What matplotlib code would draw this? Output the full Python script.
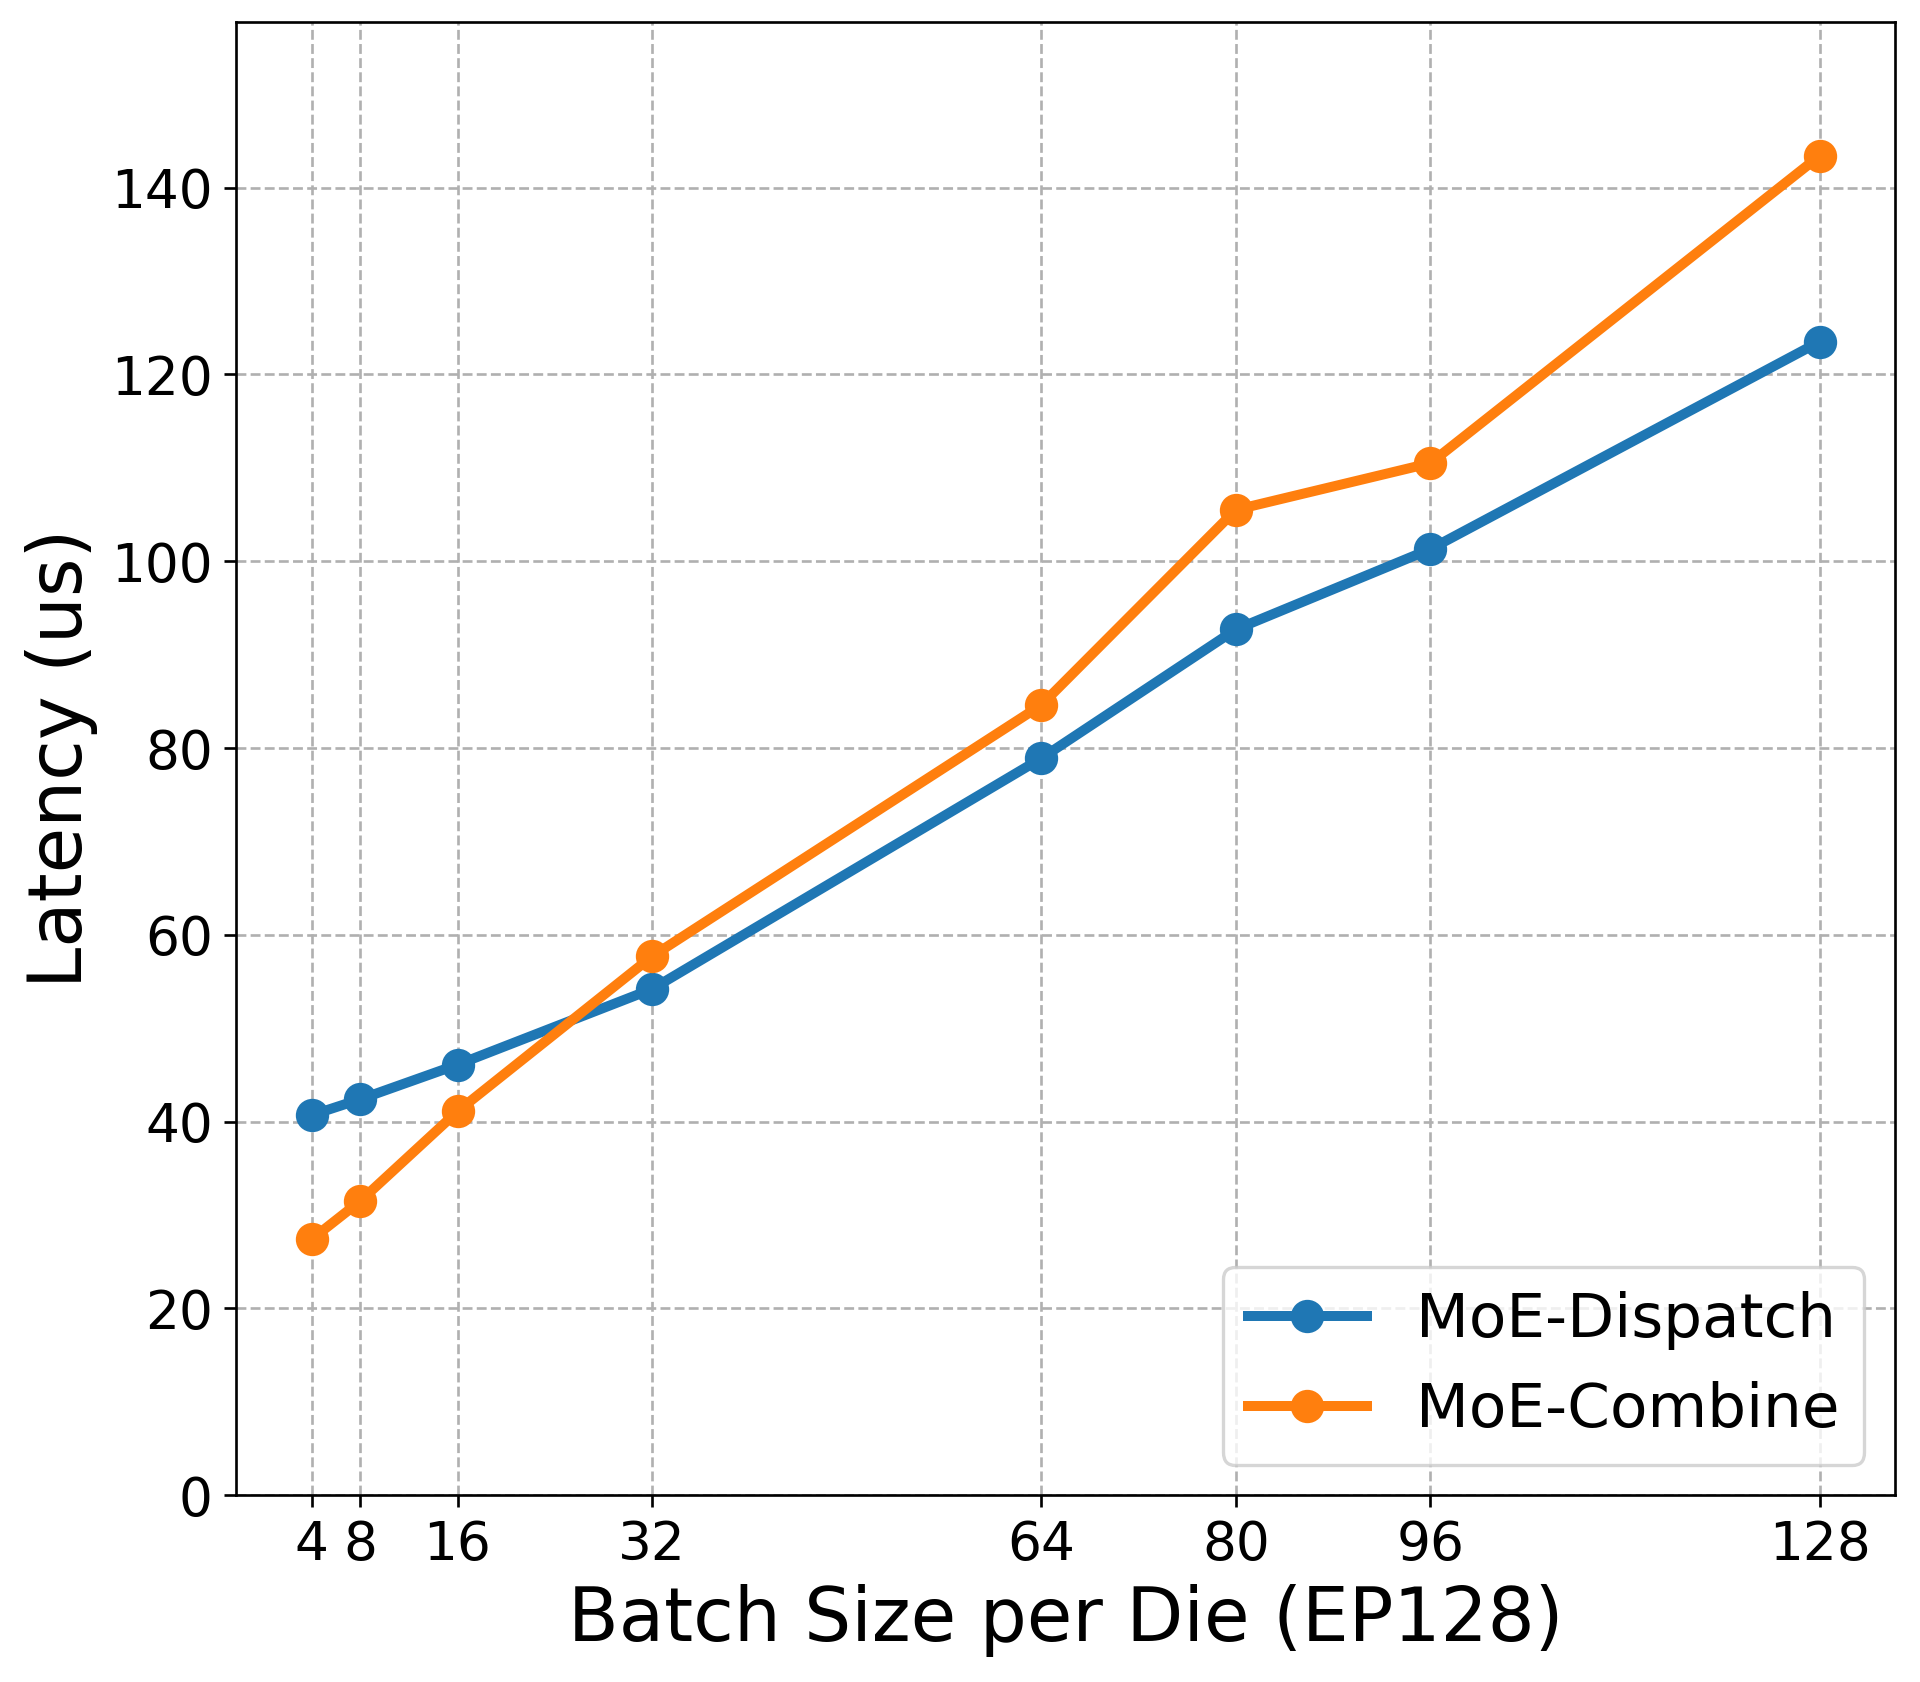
import matplotlib
matplotlib.use("Agg")
import matplotlib.pyplot as plt

# Data
batch_sizes = [4, 8, 16, 32, 64, 80, 96, 128]
dispatch = [40.7, 42.4, 46.1, 54.2, 78.9, 92.7, 101.3, 123.5]
combine = [27.4, 31.5, 41.1, 57.7, 84.6, 105.5, 110.5, 143.4]

fig, ax = plt.subplots(figsize=(8, 1682 / 240), dpi=240)
fig.subplots_adjust(left=0.123, right=0.987, top=0.987, bottom=0.111)

ax.plot(batch_sizes, dispatch, marker="o", linewidth=3, markersize=9,
        color="#1f77b4", label="MoE-Dispatch")
ax.plot(batch_sizes, combine, marker="o", linewidth=3, markersize=9,
        color="#ff7f0e", label="MoE-Combine")

ax.set_xticks(batch_sizes)
ax.set_ylim(0, max(combine) * 1.1)
ax.tick_params(labelsize=16)
ax.set_xlabel("Batch Size per Die (EP128)", fontsize=22.2)
ax.set_ylabel("Latency (us)", fontsize=22.2)
ax.grid(True, linestyle="--", color="#b0b0b0", linewidth=0.8)
ax.legend(loc="lower right", fontsize=18.4, handlelength=1.95)

fig.savefig("out.png", dpi=240)
